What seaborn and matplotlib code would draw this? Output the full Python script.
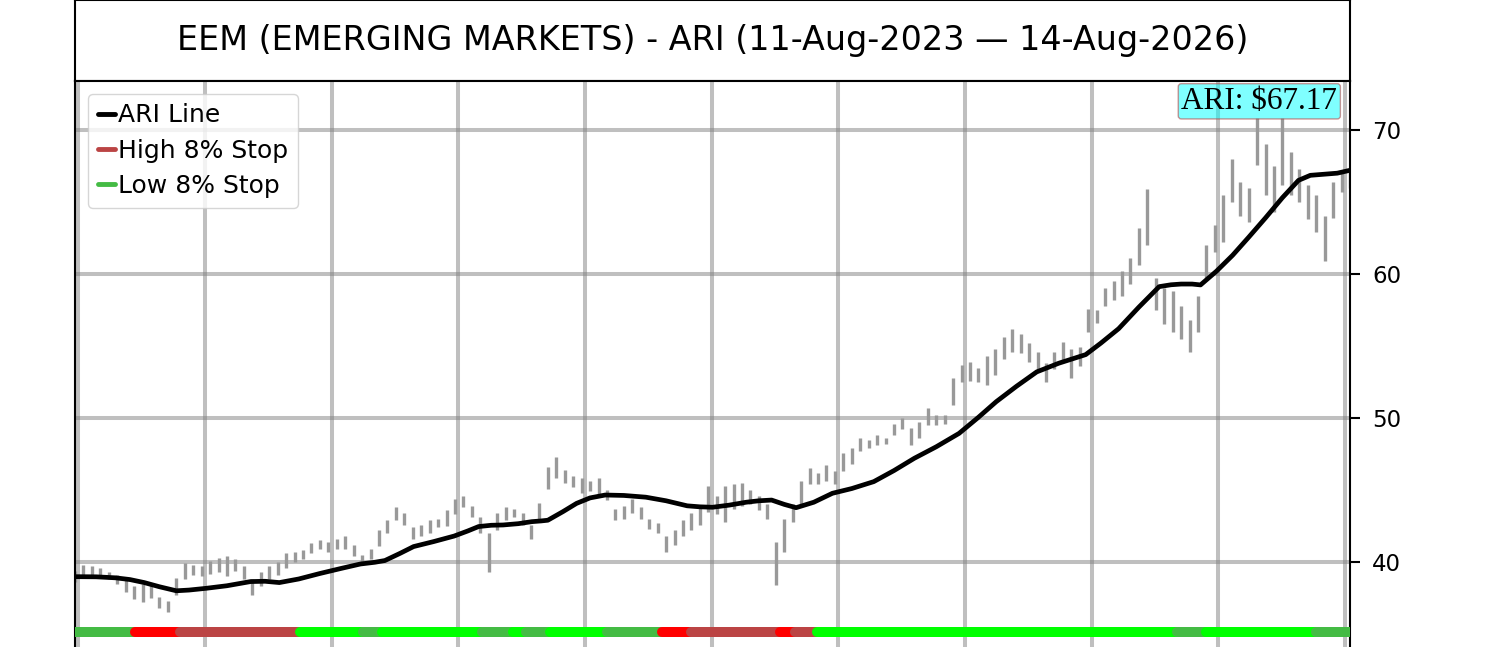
import numpy as np
import pandas as pd
import matplotlib
matplotlib.use("Agg")
import matplotlib.pyplot as plt
import seaborn as sns
from matplotlib.lines import Line2D

# weekly price ranges (low / high)
week_lows = [38.6, 38.9, 39.0, 38.9, 38.8, 38.5, 37.9, 37.4, 37.2, 37.5,
             36.8, 36.5, 37.7, 38.8, 39.1, 39.0, 39.2, 39.3, 39.0, 39.4,
             38.8, 37.7, 38.3, 38.8, 39.1, 39.6, 40.0, 40.2, 40.6, 40.9,
             40.7, 40.9, 40.9, 40.4, 39.8, 40.2, 41.1, 42.0, 42.9, 42.6,
             41.6, 41.8, 42.0, 42.4, 42.5, 43.3, 43.8, 43.1, 42.0, 39.3,
             42.2, 42.9, 43.1, 42.6, 41.6, 42.9, 45.1, 45.8, 45.5, 45.2,
             44.8, 44.9, 44.5, 44.3, 42.9, 43.0, 43.4, 43.0, 42.3, 42.0,
             40.7, 41.2, 41.8, 42.2, 42.6, 43.5, 43.3, 42.8, 43.7, 43.9,
             44.0, 43.6, 43.0, 38.4, 40.7, 42.8, 44.0, 45.4, 45.4, 45.6,
             45.4, 46.3, 46.8, 47.7, 47.9, 48.1, 48.2, 48.8, 49.2, 48.1,
             48.6, 49.5, 49.5, 49.6, 50.9, 52.5, 52.6, 52.5, 52.3, 53.0,
             54.1, 54.6, 54.5, 53.9, 53.2, 52.5, 53.4, 54.0, 52.8, 53.6,
             56.0, 56.6, 57.8, 58.2, 58.5, 59.3, 60.6, 62.0, 57.5, 56.5,
             56.0, 55.5, 54.6, 56.0, 59.7, 61.5, 62.2, 65.0, 64.0, 63.6,
             67.6, 65.5, 64.3, 66.2, 65.5, 65.0, 63.8, 62.9, 60.9, 63.9,
             65.7, 66.0]
week_highs = [39.4, 39.8, 39.7, 39.6, 39.3, 39.1, 38.8, 38.3, 38.5, 38.4,
              37.6, 37.3, 38.9, 39.9, 39.8, 39.7, 40.1, 40.3, 40.4, 40.2,
              39.7, 38.8, 39.3, 39.7, 40.0, 40.6, 40.7, 40.8, 41.3, 41.5,
              41.4, 41.6, 41.8, 41.2, 40.5, 40.9, 42.2, 42.9, 43.8, 43.4,
              42.4, 42.6, 42.9, 43.0, 43.6, 44.4, 44.6, 43.9, 43.1, 42.0,
              43.4, 43.8, 43.7, 43.4, 42.6, 44.1, 46.6, 47.3, 46.4, 46.0,
              45.8, 45.6, 45.8, 45.0, 43.7, 43.9, 44.4, 43.8, 43.0, 42.7,
              41.8, 42.2, 42.9, 43.4, 43.8, 45.3, 44.6, 45.3, 45.4, 45.5,
              45.0, 44.6, 44.0, 41.4, 43.0, 44.0, 45.6, 46.5, 46.2, 46.7,
              46.3, 47.6, 47.9, 48.6, 48.5, 48.8, 48.6, 49.6, 50.0, 49.3,
              49.7, 50.7, 50.2, 50.2, 52.8, 53.7, 53.9, 53.5, 54.3, 54.8,
              55.6, 56.2, 55.8, 55.2, 54.6, 53.8, 54.6, 55.3, 54.8, 54.9,
              57.6, 57.5, 59.0, 59.5, 60.2, 61.1, 63.2, 65.9, 59.7, 59.0,
              58.8, 57.8, 56.8, 58.5, 62.0, 63.4, 65.5, 68.0, 66.4, 66.0,
              70.8, 69.0, 67.5, 70.8, 68.5, 67.3, 66.2, 65.5, 64.0, 66.4,
              67.1, 67.2]

# ARI line (smoothed), sampled at these weeks
ari_weeks = [0, 2.5, 4.8, 6.5, 8.2, 10, 12, 13.5, 15.5, 18, 20.8, 22.5,
             24.2, 26.5, 29, 31.5, 33.8, 35.5, 36.7, 38.5, 40.1, 42.5,
             44.9, 46.5, 47.8, 49.3, 50.7, 52.5, 54.1, 55.2, 56, 57.8,
             59.4, 61, 62.8, 65, 67.6, 70, 72.5, 74, 75.5, 77.5, 79.5, 81,
             82.5, 84, 85.4, 87.5, 89.7, 92, 94.6, 97, 99.4, 102, 104.7,
             107, 109.1, 111.5, 113.9, 116.5, 119.7, 121.5, 123.6, 126,
             128.4, 129.8, 131, 132.3, 133.3, 135.2, 137.1, 139, 141, 143,
             144.9, 146.3, 147.8, 149.5, 151]
ari_values = [38.98, 38.97, 38.9, 38.78, 38.57, 38.28, 38.0, 38.05, 38.17,
              38.35, 38.64, 38.66, 38.57, 38.82, 39.2, 39.55, 39.86, 39.98,
              40.1, 40.6, 41.07, 41.42, 41.8, 42.15, 42.46, 42.55, 42.57,
              42.66, 42.8, 42.85, 42.9, 43.5, 44.07, 44.45, 44.65, 44.62,
              44.5, 44.25, 43.9, 43.83, 43.8, 43.95, 44.15, 44.25, 44.3,
              44.0, 43.77, 44.15, 44.77, 45.1, 45.58, 46.35, 47.2, 48.0,
              48.93, 50.05, 51.13, 52.2, 53.2, 53.8, 54.4, 55.2, 56.2, 57.7,
              59.12, 59.25, 59.3, 59.3, 59.24, 60.2, 61.3, 62.55, 63.9,
              65.3, 66.5, 66.85, 66.92, 67.0, 67.2]

# stop state band segments (start week, end week, state)
band_start = [0, 7.1, 12.4, 26.7, 34.1, 36.3, 48.2, 51.9, 53.4, 56.3, 63.0,
              69.5, 73.0, 83.5, 85.3, 87.9, 130.5, 134.0, 147.0]
band_end = [7.1, 12.4, 26.7, 34.1, 36.3, 48.2, 51.9, 53.4, 56.3, 63.0, 69.5,
            73.0, 83.5, 85.3, 87.9, 130.5, 134.0, 147.0, 151]
band_state = ['low', 'high_hit', 'high', 'low_hit', 'low', 'low_hit', 'low',
              'low_hit', 'low', 'low_hit', 'low', 'high_hit', 'high',
              'high_hit', 'high', 'low_hit', 'low', 'low_hit', 'low']

state_colors = {'low': '#44bb44', 'low_hit': '#00ff00',
                'high': '#bb4444', 'high_hit': '#ff0000'}

title = 'EEM (EMERGING MARKETS) - ARI (11-Aug-2023 \u2014 14-Aug-2026)'
last_ari = 67.17

sns.set_style('white')
plt.rcParams['font.family'] = ['DejaVu Sans']
plt.rcParams['text.color'] = 'black'

fig = plt.figure(figsize=(15, 6.47), dpi=100)
top = 1 - 81 / 647
ax_t = fig.add_axes([0.05, top, 0.85, 1 - top])
ax = fig.add_axes([0.05, -0.0244, 0.85, top + 0.0244])

# title box
ax_t.set_xticks([])
ax_t.set_yticks([])
for s in ax_t.spines.values():
    s.set_color('black')
    s.set_linewidth(1.5)
ax_t.text(0.5, 0.5, title, ha='center', va='center', fontsize=24,
          color='black', transform=ax_t.transAxes)

# price ranges
weeks = np.arange(len(week_lows))
ax.vlines(weeks, week_lows, week_highs, color='#999999', linewidth=2.4, zorder=2)

# ARI line
ari_df = pd.DataFrame({'week': ari_weeks, 'ari': ari_values})
sns.lineplot(data=ari_df, x='week', y='ari', color='black', linewidth=3.4,
             ax=ax, zorder=3, solid_joinstyle='round')

# stop band
for a, b, st in zip(band_start, band_end, band_state):
    ax.plot([a, b], [35.15, 35.15], color=state_colors[st], linewidth=7.2,
            solid_capstyle='round', zorder=4)

ax.set_xlim(0, 151)
ax.set_ylim(33.0, 73.4)
ax.set_xticks(np.arange(0.4, 151, 15))
ax.set_yticks([40, 50, 60, 70])
ax.set_xlabel('')
ax.set_ylabel('')
ax.yaxis.tick_right()
ax.tick_params(axis='x', length=0, labelbottom=False)
ax.tick_params(axis='y', direction='out', length=7, width=1.5,
               labelsize=16.5, pad=9, colors='black')
ax.grid(True, color='gray', alpha=0.5, linewidth=2.9)
ax.set_axisbelow(True)
for s in ax.spines.values():
    s.set_color('black')
    s.set_linewidth(1.5)

handles = [Line2D([], [], color='black', linewidth=3.5),
           Line2D([], [], color=state_colors['high'], linewidth=3.5),
           Line2D([], [], color=state_colors['low'], linewidth=3.5)]
leg = ax.legend(handles, ['ARI Line', 'High 8% Stop', 'Low 8% Stop'],
                loc='upper left', fontsize=18, handlelength=0.7,
                handletextpad=0.1, borderpad=0.4, labelspacing=0.45)
for t in leg.get_texts():
    t.set_color('black')

ax.text(0.99, 0.99, f'ARI: ${last_ari:.2f}', transform=ax.transAxes,
        ha='right', va='top', fontsize=22.5, family='Liberation Serif',
        color='black',
        bbox=dict(boxstyle='round,pad=0.1', facecolor=(0, 1, 1, 0.5),
                  edgecolor=(0.7, 0.3, 0.3, 0.6)), zorder=6)

fig.savefig('out.png', dpi=100)
